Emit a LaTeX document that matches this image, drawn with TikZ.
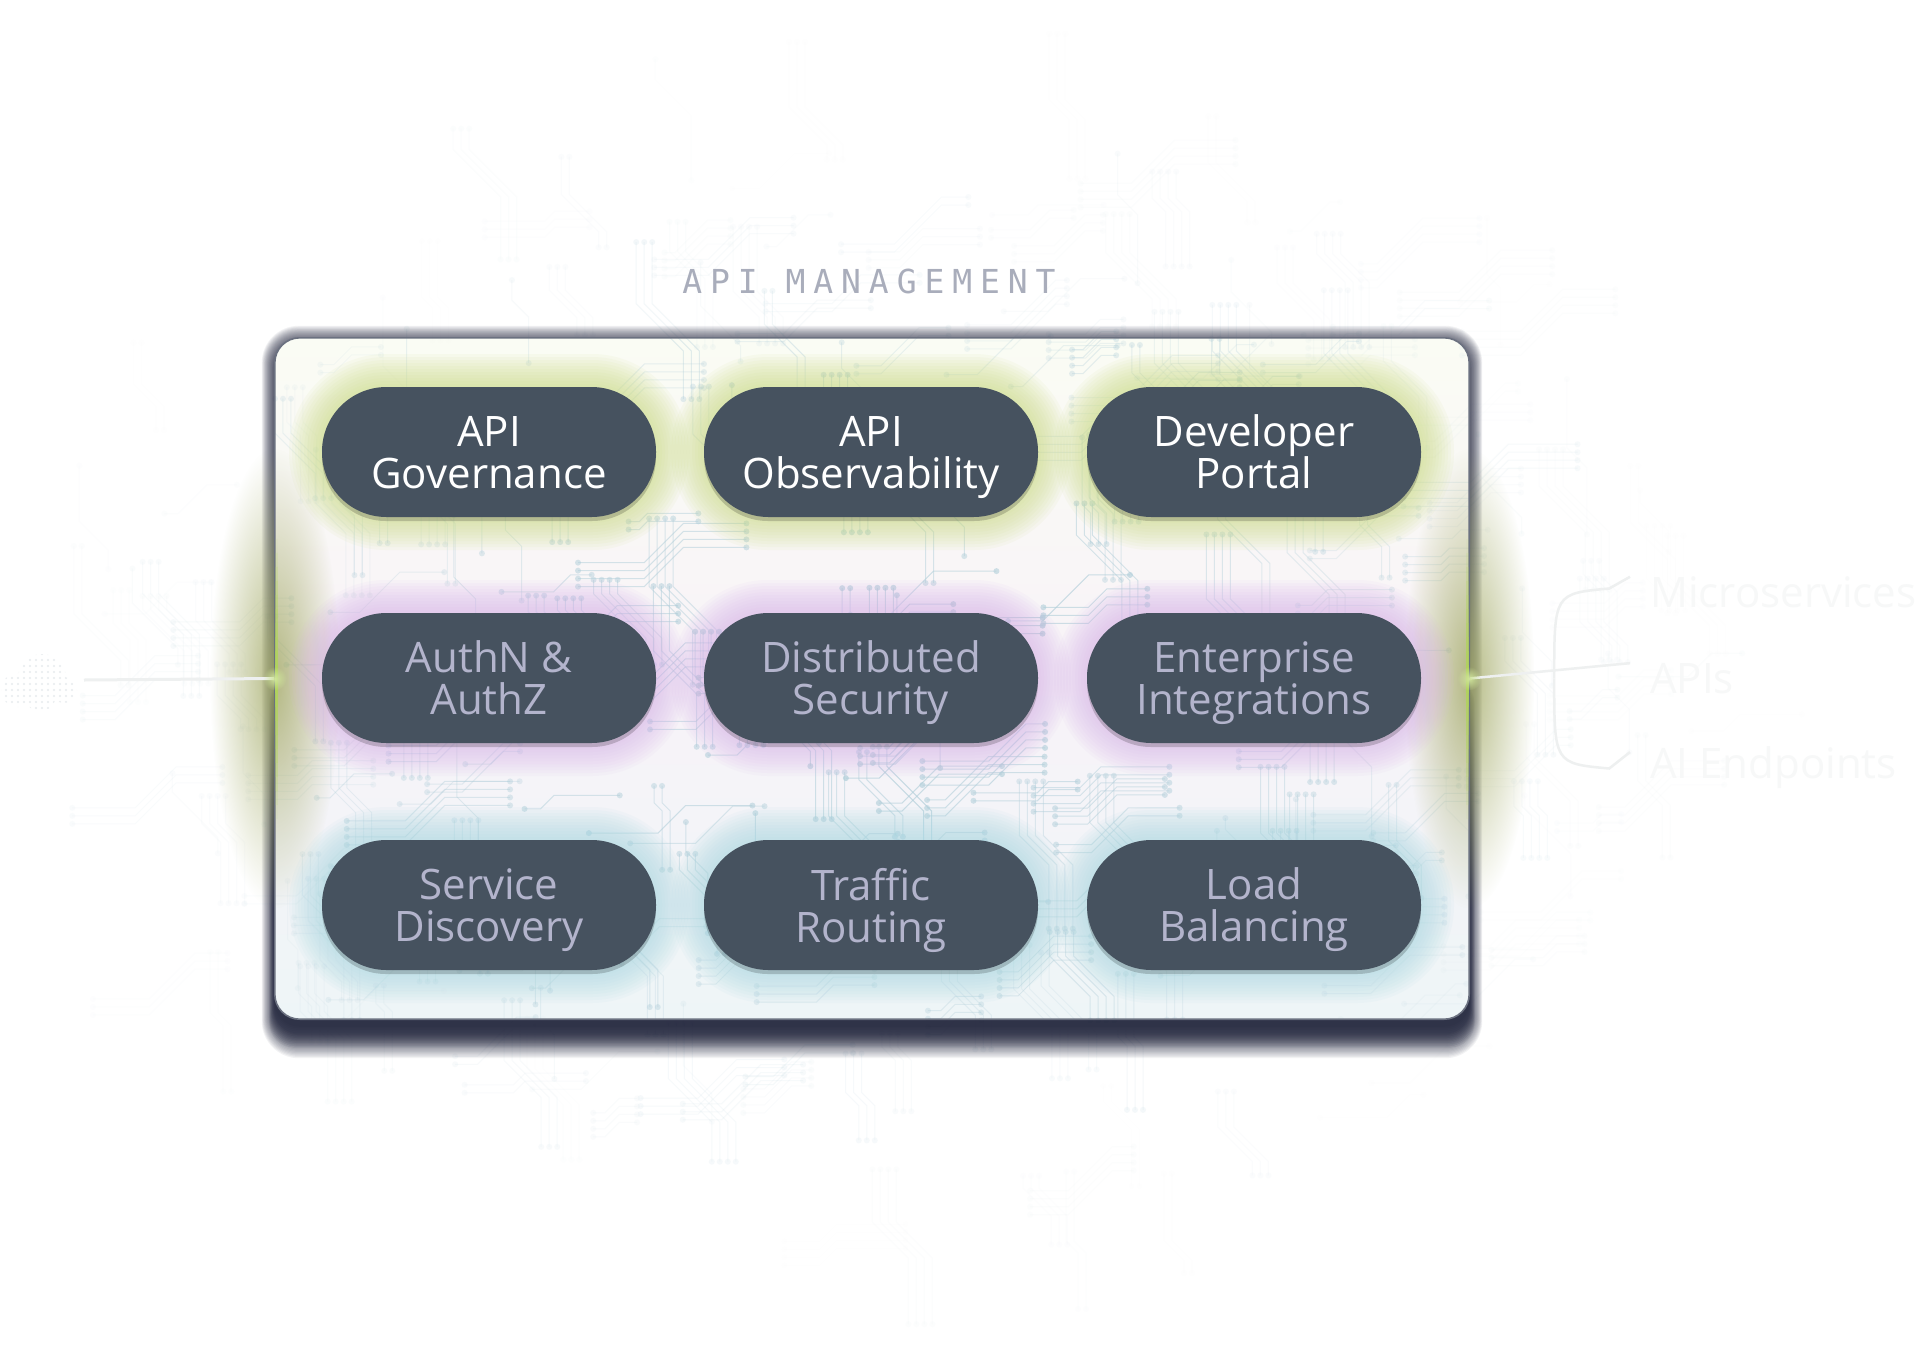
\documentclass[tikz,border=0pt]{standalone}
\usepackage{fontspec}
\setmainfont{Open Sans}
\newfontfamily\titlefont[LetterSpace=24]{DejaVu Sans Mono}
\usetikzlibrary{fadings,calc}
\tikzfading[name=softfade, inner color=transparent!0, outer color=transparent!100]
\definecolor{pillc}{HTML}{46525F}
\definecolor{pilltxt}{HTML}{B3B4CC}
\definecolor{titlec}{HTML}{A9ADBB}
\definecolor{tracec}{HTML}{C4DAE3}
\definecolor{tracein}{HTML}{B2CFDA}
\definecolor{shadowc}{HTML}{161A33}
\definecolor{boxtop}{HTML}{FAFCF4}
\definecolor{boxmid}{HTML}{F8F3F8}
\definecolor{boxbot}{HTML}{EEF5F7}
\definecolor{boxedge}{HTML}{6B7180}
\definecolor{glowA}{HTML}{CBDC82}
\definecolor{glowB}{HTML}{D9B5EA}
\definecolor{glowC}{HTML}{A9D8E2}
\definecolor{sidegreen}{HTML}{A3AA66}
\definecolor{edgegreen}{HTML}{B0D45A}
\definecolor{ghost}{HTML}{F7F8F8}
\definecolor{ghostline}{HTML}{EEF0F0}
\definecolor{clouddot}{HTML}{E7EBEE}

\newcommand\pst{\vphantom{Al}}
\newcommand\lastln[1]{\raisebox{0pt}[\height][0pt]{#1}}

\newcommand\circuittraces[2]{%
  \pgfmathsetseed{20240}%
  \foreach \i in {1,...,380}{%
    \pgfmathsetmacro\sx{100+rnd*1600}%
    \pgfmathsetmacro\sy{140+rnd*1080}%
    \pgfmathsetmacro\la{10+rnd*60}%
    \pgfmathsetmacro\lb{8+rnd*40}%
    \pgfmathsetmacro\lc{10+rnd*60}%
    \pgfmathsetmacro\ang{90*int(rnd*4)}%
    \pgfmathsetmacro\nb{int(1+rnd*4)}%
    \pgfmathsetmacro\dd{sqrt(((\sx-880)/830)^2+((\sy-680)/540)^2)}%
    \pgfmathsetmacro\op{#2*max(0,1-\dd)}%
    \begin{scope}[rotate around={\ang:(\sx,\sy)}]
      \foreach \j in {1,...,\nb}{%
        \draw[#1, line width=1, opacity=\op] (\sx+8*\j,\sy) -- ++(0,\la) -- ++(\lb,\lb) -- ++(0,\lc);
        \fill[#1, opacity=\op] (\sx+8*\j,\sy) circle[radius=3];
        \fill[#1, opacity=\op] (\sx+8*\j,\sy) ++(0,\la) ++(\lb,\lb) ++(0,\lc) circle[radius=3];
      }
    \end{scope}
  }}

\newcommand\pillglow[3]{%
  \foreach \k in {33,30,...,3}{%
    \fill[#3, opacity=0.075, rounded corners=64+\k] (#1-167-\k,#2-65-\k) rectangle (#1+167+\k,#2+65+\k);
  }
  \fill[black, opacity=0.18, rounded corners=64] (#1-167,#2-62) rectangle (#1+167,#2+69);
}

\tikzset{
  pill/.style={rectangle, rounded corners=64.5pt, minimum width=334pt, minimum height=130pt,
    fill=pillc, inner sep=0pt, align=center, font=\fontsize{42}{42}\selectfont},
  toprow/.style={pill, text=white},
  lowrow/.style={pill, text=pilltxt},
  ghosttext/.style={anchor=base west, text=ghost, font=\fontsize{42}{46}\selectfont, inner sep=0pt},
  ghostwire/.style={ghostline, line width=2.5},
}

\begin{document}
\begin{tikzpicture}[x=1pt,y=-1pt]
\useasboundingbox (0,0) rectangle (1920,1355);
\fill[white] (0,0) rectangle (1920,1355);

% faint circuit background
\circuittraces{tracec}{0.45}

% left cloud
\begin{scope}
  \clip (18,690) circle[radius=17] (42,678) circle[radius=24] (64,690) circle[radius=13] (40,695) circle[radius=16];
  \foreach \gx in {0,6,...,84}{\foreach \gy in {648,654,...,714}{\fill[clouddot] (\gx,\gy) circle[radius=1.2];}}
\end{scope}
\coordinate (cloud) at (84,680);

% box (placeholder node for geometry)
\path (872,678.5) node[minimum width=1194pt, minimum height=681pt, inner sep=0pt] (box) {};

% box shadow: all round
\foreach \k in {1,...,20}{%
  \fill[shadowc, opacity=0.055, rounded corners=25+0.6*\k]
    ($(box.south west)+(-0.65*\k,14+1.25*\k)$) rectangle ($(box.north east)+(0.65*\k,6-0.9*\k)$);
}
% box shadow: extra bottom
\foreach \k in {1,...,14}{%
  \fill[shadowc, opacity=0.06, rounded corners=25]
    ($(box.south west)+(-0.4*\k,6+1.6*\k)$) rectangle ($(box.east)+(0.4*\k,0)$);
}
% box fill
\fill[top color=boxtop, bottom color=boxbot, middle color=boxmid, rounded corners=25]
  (box.south west) rectangle (box.north east);

% inside traces
\begin{scope}
  \clip[rounded corners=25] (box.south west) rectangle (box.north east);
  \circuittraces{tracein}{0.8}
\end{scope}

% side glows
\fill[sidegreen, opacity=0.8, path fading=softfade] (box.west) ellipse[x radius=65, y radius=230];
\fill[sidegreen, opacity=0.8, path fading=softfade] (box.east) ellipse[x radius=65, y radius=230];

% connectors
\draw[ghostline, line width=3] (cloud) -- (box.west);
\path (1650,607) node[ghosttext] (micro) {Microservices};
\path (1650,693) node[ghosttext] (apis) {APIs};
\path (1650,778) node[ghosttext] (aiend) {AI Endpoints};
\draw[ghostwire] (box.east) -- ($(apis.west)+(-20,-15)$);
\draw[ghostwire] ($(box.east)+(85,0)$) .. controls ($(box.east)+(85,-85)$) .. ($(box.east)+(140,-90)$) -- ($(micro.west)+(-20,-15)$);
\draw[ghostwire] ($(box.east)+(85,0)$) .. controls ($(box.east)+(85,85)$) .. ($(box.east)+(140,90)$) -- ($(aiend.west)+(-20,-15)$);

% pill glows
\pillglow{489}{452}{glowA}
\pillglow{871}{452}{glowA}
\pillglow{1254}{452}{glowA}
\pillglow{489}{678}{glowB}
\pillglow{871}{678}{glowB}
\pillglow{1254}{678}{glowB}
\pillglow{489}{905}{glowC}
\pillglow{871}{905}{glowC}
\pillglow{1254}{905}{glowC}

% box outline
\draw[boxedge, line width=1.6, rounded corners=25] (box.south west) rectangle (box.north east);

% green edge lines
\foreach \j in {0,...,19}{%
  \pgfmathsetmacro\eo{max(0,1-abs(\j-9.5)/10)}
  \draw[edgegreen, line width=2.6, opacity=\eo] ($(box.west)+(1.5,-140+14*\j)$) -- ++(0,14);
  \draw[edgegreen, line width=2.6, opacity=\eo] ($(box.east)+(-1.5,-140+14*\j)$) -- ++(0,14);
}
\fill[edgegreen!60!white, path fading=softfade] (box.west) circle[radius=12];
\fill[edgegreen!60!white, path fading=softfade] (box.east) circle[radius=12];

% pills
\node[toprow] (gov) at (489,452) {\pst API\\\lastln{Governance}};
\node[toprow] (obs) at (871,452) {\pst API\\\lastln{Observability}};
\node[toprow] (dev) at (1254,452) {\pst Developer\\\lastln{Portal}};
\node[lowrow] (auth) at (489,678) {\pst AuthN \&\\\lastln{AuthZ}};
\node[lowrow] (sec) at (871,678) {\pst Distributed\\\lastln{Security}};
\node[lowrow] (ent) at (1254,678) {\pst Enterprise\\\lastln{Integrations}};
\node[lowrow] (disc) at (489,905) {\pst Service\\\lastln{Discovery}};
\node[lowrow] (route) at (871,905) {\pst Traffic\\\lastln{Routing}};
\node[lowrow] (lb) at (1254,905) {\pst Load\\\lastln{Balancing}};

% title
\node[anchor=base, inner sep=0pt, text=titlec, font=\titlefont\fontsize{33}{36}\selectfont] (title) at (869,293) {API MANAGEMENT};
\end{tikzpicture}
\end{document}
